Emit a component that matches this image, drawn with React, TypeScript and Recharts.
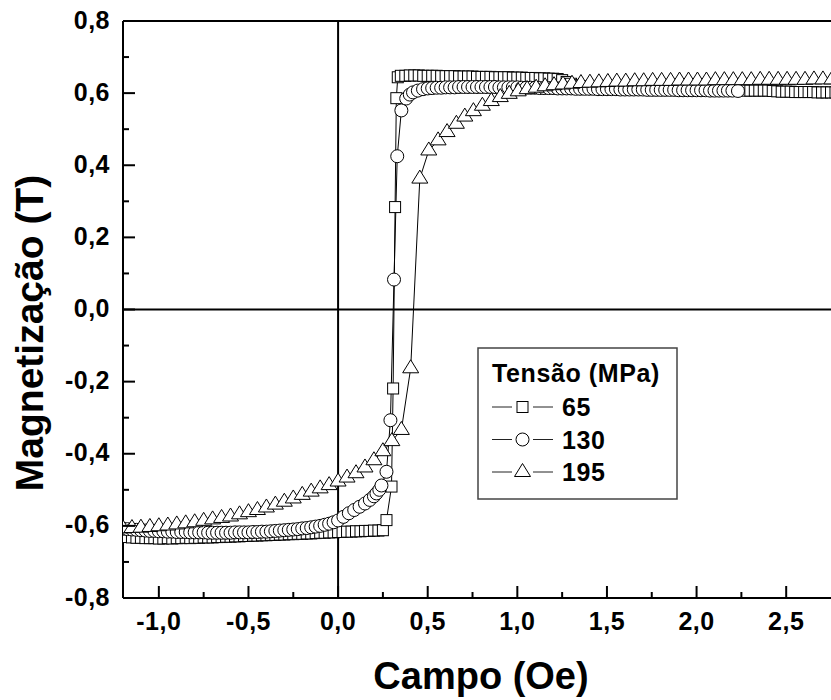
import React from 'react';
import { LineChart, Line, XAxis, YAxis, ReferenceLine } from 'recharts';

// 65 MPa (quadrados)
const field65 = [
  -1.2, -1.175, -1.15, -1.125, -1.1, -1.075, -1.05, -1.025, -1.0, -0.975, -0.95, -0.925, -0.9, -0.875, -0.85,
  -0.825, -0.8, -0.775, -0.75, -0.725, -0.7, -0.675, -0.65, -0.625, -0.6, -0.575, -0.55, -0.525, -0.5, -0.475,
  -0.45, -0.425, -0.4, -0.375, -0.35, -0.325, -0.3, -0.275, -0.25, -0.225, -0.2, -0.175, -0.15, -0.125, -0.1,
  -0.075, -0.05, -0.025, 0, 0.025, 0.05, 0.075, 0.1, 0.125, 0.15, 0.175, 0.2, 0.225, 0.25,
  0.27, 0.298, 0.307, 0.318, 0.325, 0.333,
  0.35, 0.375, 0.4, 0.425, 0.45, 0.475, 0.5, 0.525, 0.55, 0.575, 0.6, 0.625, 0.65, 0.675, 0.7, 0.725, 0.75,
  0.775, 0.8, 0.825, 0.85, 0.875, 0.9, 0.925, 0.95, 0.975, 1.0, 1.025, 1.05, 1.075, 1.1, 1.125, 1.15, 1.175,
  1.2, 1.225, 1.25, 1.275, 1.3, 1.325, 1.35, 1.375, 1.4,
  1.425, 1.45, 1.475, 1.5, 1.525, 1.55, 1.575, 1.6, 1.625, 1.65, 1.675, 1.7, 1.725, 1.75, 1.775, 1.8, 1.825,
  1.85, 1.875, 1.9, 1.925, 1.95, 1.975, 2.0, 2.025, 2.05, 2.075, 2.1, 2.125, 2.15, 2.175, 2.2, 2.225, 2.25,
  2.275, 2.3, 2.325, 2.35, 2.375, 2.4, 2.425, 2.45, 2.475, 2.5, 2.525, 2.55, 2.575, 2.6, 2.625, 2.65, 2.675,
  2.7, 2.725, 2.75, 2.775,
];
const mag65 = [
  -0.630, -0.631, -0.632, -0.633, -0.633, -0.634, -0.634, -0.634, -0.635, -0.635, -0.634, -0.635, -0.634, -0.634, -0.633,
  -0.634, -0.633, -0.633, -0.632, -0.632, -0.632, -0.631, -0.631, -0.630, -0.630, -0.629, -0.629, -0.628, -0.628, -0.627,
  -0.627, -0.626, -0.626, -0.625, -0.625, -0.624, -0.624, -0.623, -0.623, -0.622, -0.622, -0.621, -0.621, -0.620, -0.619,
  -0.619, -0.618, -0.618, -0.617, -0.617, -0.616, -0.616, -0.615, -0.615, -0.614, -0.614, -0.613, -0.613, -0.612,
  -0.584, -0.491, -0.219, 0.284, 0.586, 0.644,
  0.648, 0.648, 0.649, 0.649, 0.649, 0.648, 0.648, 0.648, 0.648, 0.647, 0.647, 0.647, 0.647, 0.646, 0.646, 0.646, 0.646,
  0.645, 0.645, 0.645, 0.645, 0.644, 0.644, 0.644, 0.644, 0.643, 0.643, 0.643, 0.642, 0.642, 0.642, 0.641, 0.641, 0.640,
  0.640, 0.639, 0.636, 0.631, 0.626, 0.622, 0.619, 0.617, 0.616,
  0.615, 0.615, 0.614, 0.614, 0.614, 0.613, 0.613, 0.613, 0.612, 0.612, 0.612, 0.612, 0.611, 0.611, 0.611, 0.611, 0.610,
  0.610, 0.610, 0.610, 0.610, 0.609, 0.609, 0.609, 0.609, 0.609, 0.608, 0.608, 0.608, 0.608, 0.608, 0.608, 0.608, 0.608,
  0.607, 0.607, 0.607, 0.607, 0.607, 0.607, 0.606, 0.605, 0.604, 0.604, 0.604, 0.603, 0.603, 0.603, 0.603, 0.603, 0.602,
  0.602, 0.602, 0.602, 0.602,
];

// 130 MPa (círculos)
const field130 = [
  -1.2, -1.175, -1.15, -1.125, -1.1, -1.075, -1.05, -1.025, -1.0, -0.975, -0.95, -0.925, -0.9, -0.875, -0.85,
  -0.825, -0.8, -0.775, -0.75, -0.725, -0.7, -0.675, -0.65, -0.625, -0.6, -0.575, -0.55, -0.525, -0.5, -0.475,
  -0.45, -0.425, -0.4, -0.375, -0.35, -0.325, -0.3, -0.275, -0.25, -0.225, -0.2, -0.175, -0.15, -0.125, -0.1,
  -0.075, -0.05, -0.025, 0,
  0.03, 0.06, 0.09, 0.12, 0.15, 0.177, 0.2, 0.214, 0.23, 0.242, 0.27, 0.292, 0.312, 0.33, 0.353, 0.38, 0.4,
  0.418, 0.445, 0.474, 0.5,
  0.525, 0.55, 0.575, 0.6, 0.625, 0.65, 0.675, 0.7, 0.725, 0.75, 0.775, 0.8, 0.825, 0.85, 0.875, 0.9, 0.925,
  0.95, 0.975, 1.0, 1.025, 1.05, 1.075, 1.1, 1.125, 1.15, 1.175, 1.2, 1.225, 1.25, 1.275, 1.3, 1.325, 1.35,
  1.375, 1.4, 1.425, 1.45, 1.475, 1.5, 1.525, 1.55, 1.575, 1.6, 1.625, 1.65, 1.675, 1.7, 1.725, 1.75, 1.775,
  1.8, 1.825, 1.85, 1.875, 1.9, 1.925, 1.95, 1.975, 2.0, 2.025, 2.05, 2.075, 2.1, 2.125, 2.15, 2.175, 2.2, 2.231,
];
const mag130 = [
  -0.608, -0.609, -0.610, -0.611, -0.612, -0.613, -0.614, -0.614, -0.615, -0.615, -0.616, -0.616, -0.617, -0.617, -0.617,
  -0.618, -0.618, -0.618, -0.618, -0.619, -0.619, -0.619, -0.619, -0.619, -0.619, -0.618, -0.618, -0.618, -0.618, -0.617,
  -0.617, -0.616, -0.616, -0.615, -0.614, -0.613, -0.612, -0.611, -0.610, -0.609, -0.607, -0.606, -0.604, -0.602, -0.600,
  -0.597, -0.594, -0.590, -0.585,
  -0.575, -0.565, -0.556, -0.547, -0.538, -0.528, -0.518, -0.510, -0.500, -0.488, -0.450, -0.307, 0.083, 0.425, 0.552,
  0.585, 0.596, 0.602, 0.607, 0.611, 0.613,
  0.614, 0.615, 0.615, 0.616, 0.616, 0.616, 0.617, 0.617, 0.617, 0.617, 0.617, 0.617, 0.617, 0.617, 0.617, 0.616, 0.616,
  0.616, 0.616, 0.616, 0.615, 0.615, 0.615, 0.615, 0.614, 0.614, 0.614, 0.614, 0.613, 0.613, 0.613, 0.613, 0.612, 0.612,
  0.612, 0.612, 0.612, 0.611, 0.611, 0.611, 0.611, 0.611, 0.610, 0.610, 0.610, 0.610, 0.610, 0.610, 0.609, 0.609, 0.609,
  0.609, 0.609, 0.609, 0.609, 0.608, 0.608, 0.608, 0.608, 0.608, 0.608, 0.608, 0.607, 0.607, 0.607, 0.607, 0.607, 0.607,
  0.606,
];

// 195 MPa (triângulos)
const field195 = [
  -1.2, -1.15, -1.1, -1.05, -1.0, -0.95, -0.9, -0.85, -0.8, -0.75, -0.7, -0.65, -0.6, -0.55, -0.5, -0.45, -0.4,
  -0.35, -0.3, -0.25, -0.2, -0.15, -0.1, -0.05, 0, 0.05, 0.1, 0.15, 0.2, 0.25, 0.3, 0.353, 0.405, 0.456, 0.506,
  0.558, 0.608, 0.66, 0.707, 0.755, 0.805, 0.855, 0.905, 0.955, 1.005, 1.055, 1.105, 1.155, 1.205, 1.255, 1.305,
  1.355, 1.405, 1.455, 1.505, 1.555, 1.605, 1.655, 1.705, 1.755, 1.805, 1.855, 1.905, 1.955, 2.005, 2.055, 2.105,
  2.155, 2.205, 2.255, 2.305, 2.355, 2.405, 2.455, 2.505, 2.555, 2.605, 2.655, 2.705, 2.755,
];
const mag195 = [
  -0.607, -0.606, -0.605, -0.603, -0.601, -0.599, -0.596, -0.593, -0.590, -0.586, -0.582, -0.578, -0.574, -0.568, -0.562,
  -0.556, -0.549, -0.541, -0.533, -0.524, -0.514, -0.505, -0.496, -0.487, -0.477, -0.466, -0.454, -0.438, -0.418, -0.393,
  -0.365, -0.334, -0.163, 0.363, 0.441, 0.469, 0.492, 0.515, 0.535, 0.550, 0.565, 0.578, 0.589, 0.598, 0.605, 0.611,
  0.615, 0.619, 0.622, 0.624, 0.626, 0.628, 0.629, 0.630, 0.631, 0.632, 0.632, 0.633, 0.633, 0.634, 0.634, 0.634, 0.635,
  0.635, 0.635, 0.635, 0.636, 0.636, 0.636, 0.636, 0.636, 0.637, 0.637, 0.637, 0.637, 0.637, 0.637, 0.638, 0.638, 0.638,
];

const xTicks = [-1, -0.75, -0.5, -0.25, 0, 0.25, 0.5, 0.75, 1, 1.25, 1.5, 1.75, 2, 2.25, 2.5];
const xLabels = [-1, -0.5, 0, 0.5, 1, 1.5, 2, 2.5];
const yTicks = [-0.8, -0.7, -0.6, -0.5, -0.4, -0.3, -0.2, -0.1, 0, 0.1, 0.2, 0.3, 0.4, 0.5, 0.6, 0.7, 0.8];
const yLabels = [-0.8, -0.6, -0.4, -0.2, 0, 0.2, 0.4, 0.6, 0.8];
const legendTitle = 'Tensão (MPa)';
const seriesNames = ['65', '130', '195'];

const toRows = (xs: number[], ys: number[]) => xs.map((x, i) => ({ x, y: ys[i] }));
const data65 = toRows(field65, mag65);
const data130 = toRows(field130, mag130);
const data195 = toRows(field195, mag195);

const FONT = '"Liberation Sans", Arial, Helvetica, sans-serif';
const fmt = (v: number) => v.toFixed(1).replace('.', ',');
const isMajor = (v: number, list: number[]) => list.some(l => Math.abs(l - v) < 1e-6);

// marcadores
const SquareMark = ({ cx, cy }: { cx: number; cy: number }) => (
  <rect x={cx - 5.5} y={cy - 5.5} width={11} height={11} fill="#fff" stroke="#000" strokeWidth={1} />
);
const CircleMark = ({ cx, cy }: { cx: number; cy: number }) => (
  <circle cx={cx} cy={cy} r={6.5} fill="#fff" stroke="#000" strokeWidth={1} />
);
const TriangleMark = ({ cx, cy }: { cx: number; cy: number }) => (
  <polygon
    points={`${cx},${cy - 8.5} ${cx - 8},${cy + 4.5} ${cx + 8},${cy + 4.5}`}
    fill="#fff"
    stroke="#000"
    strokeWidth={1}
  />
);

const dotRenderer = (Mark: any) => (props: any) => {
  const { cx, cy, index } = props;
  if (cx == null || cy == null) return <g key={`e${index}`} />;
  return <Mark key={`m${index}`} cx={cx} cy={cy} />;
};

const XTick = (props: any) => {
  const { x, y, payload } = props;
  const major = isMajor(payload.value, xLabels);
  return (
    <g>
      <line x1={x} x2={x} y1={y} y2={y - (major ? 12 : 6)} stroke="#000" strokeWidth={2} />
      {major && (
        <text x={x} y={y + 32} textAnchor="middle" fontFamily={FONT} fontWeight="bold" fontSize={25} letterSpacing={0.5} fill="#000">
          {fmt(payload.value)}
        </text>
      )}
    </g>
  );
};

const YTick = (props: any) => {
  const { x, y, payload } = props;
  const major = isMajor(payload.value, yLabels);
  return (
    <g>
      <line x1={x} x2={x + (major ? 12 : 6)} y1={y} y2={y} stroke="#000" strokeWidth={2} />
      {major && (
        <text x={x - 13} y={y + 7.5} textAnchor="end" fontFamily={FONT} fontWeight="bold" fontSize={25} letterSpacing={0.5} fill="#000">
          {fmt(payload.value)}
        </text>
      )}
    </g>
  );
};

const marks = [SquareMark, CircleMark, TriangleMark];

const App: React.FC = () => {
  return (
    <div style={{ position: 'absolute', left: 0, top: 0, width: 831, height: 700, background: '#fff', overflow: 'hidden' }}>
      <LineChart width={831} height={700} margin={{ top: 21, right: 0, bottom: 72, left: 63 }}>
        <XAxis
          type="number"
          dataKey="x"
          domain={[-1.2, 2.75]}
          allowDataOverflow
          ticks={xTicks}
          interval={0}
          tickSize={0}
          tickMargin={0}
          tickLine={false}
          tick={<XTick />}
          axisLine={{ stroke: '#000', strokeWidth: 2 }}
          height={30}
        />
        <YAxis
          type="number"
          domain={[-0.8, 0.8]}
          allowDataOverflow
          ticks={yTicks}
          interval={0}
          tickSize={0}
          tickMargin={0}
          tickLine={false}
          tick={<YTick />}
          axisLine={{ stroke: '#000', strokeWidth: 2 }}
          width={60}
        />
        <ReferenceLine y={0.8} stroke="#000" strokeWidth={2} />
        <ReferenceLine y={0} stroke="#000" strokeWidth={2} />
        <ReferenceLine x={0} stroke="#000" strokeWidth={2} />
        <Line data={data65} dataKey="y" name="65" type="linear" stroke="#000" strokeWidth={1}
          dot={dotRenderer(SquareMark)} activeDot={false} isAnimationActive={false} />
        <Line data={data130} dataKey="y" name="130" type="linear" stroke="#000" strokeWidth={1}
          dot={dotRenderer(CircleMark)} activeDot={false} isAnimationActive={false} />
        <Line data={data195} dataKey="y" name="195" type="linear" stroke="#000" strokeWidth={1}
          dot={dotRenderer(TriangleMark)} activeDot={false} isAnimationActive={false} />
      </LineChart>

      {/* títulos dos eixos e legenda */}
      <svg width={831} height={700} style={{ position: 'absolute', left: 0, top: 0, pointerEvents: 'none' }}>
        <text x={481} y={689} textAnchor="middle" fontFamily={FONT} fontWeight="bold" fontSize={38} fill="#000">
          Campo (Oe)
        </text>
        <text x={43} y={333} transform="rotate(-90, 43, 333)" textAnchor="middle" fontFamily={FONT} fontWeight="bold" fontSize={39} fill="#000">
          Magnetização (T)
        </text>
        <rect x={478} y={348} width={199} height={151} fill="#fff" stroke="#444" strokeWidth={1.5} />
        <text x={492} y={382} fontFamily={FONT} fontWeight="bold" fontSize={25} letterSpacing={0.6} fill="#000">
          {legendTitle}
        </text>
        {seriesNames.map((name, i) => {
          const cy = 407 + i * 32.5;
          const Mark = marks[i];
          return (
            <g key={name}>
              <line x1={492} x2={512} y1={cy} y2={cy} stroke="#222" strokeWidth={1} />
              <line x1={533} x2={553} y1={cy} y2={cy} stroke="#222" strokeWidth={1} />
              <Mark cx={522.5} cy={cy} />
              <text x={562} y={cy + 9} fontFamily={FONT} fontWeight="bold" fontSize={25} letterSpacing={0.6} fill="#000">
                {name}
              </text>
            </g>
          );
        })}
      </svg>
    </div>
  );
};

export default App;
